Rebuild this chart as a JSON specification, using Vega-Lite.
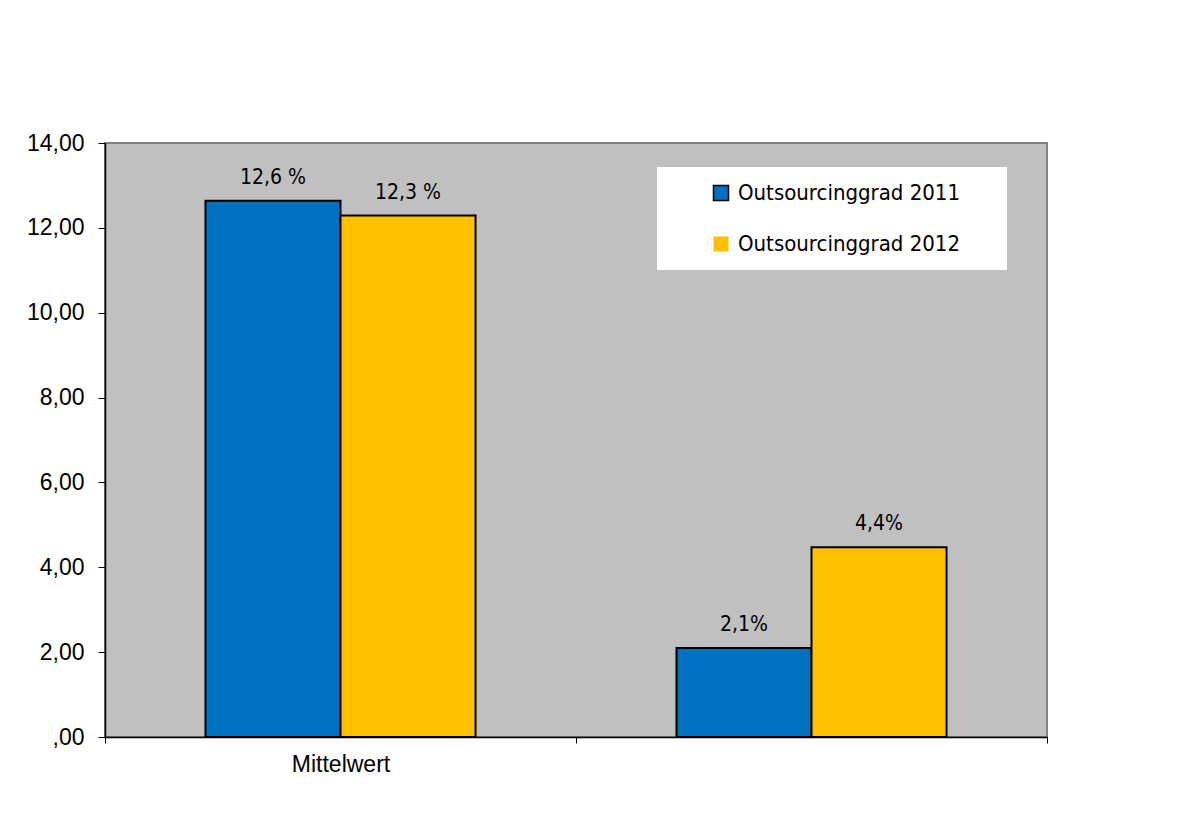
{
  "$schema": "https://vega.github.io/schema/vega-lite/v6.json",
  "autosize": {"type": "none"},
  "width": 942,
  "height": 594,
  "padding": {"left": 105, "top": 143, "right": 133, "bottom": 84},
  "background": "white",
  "config": {
    "view": {"fill": "#C0C0C0", "stroke": "#808080", "strokeWidth": 2},
    "axis": {"grid": false, "domainColor": "black", "tickColor": "black", "labelColor": "black", "labelFont": "Liberation Sans", "labelFontSize": 23, "title": null}
  },
  "data": {
    "values": [
      {"cat": "Mittelwert", "serie": "Outsourcinggrad 2011", "wert": 12.64, "label": "12,6 %"},
      {"cat": "Mittelwert", "serie": "Outsourcinggrad 2012", "wert": 12.29, "label": "12,3 %"},
      {"cat": "", "serie": "Outsourcinggrad 2011", "wert": 2.1, "label": "2,1%"},
      {"cat": "", "serie": "Outsourcinggrad 2012", "wert": 4.47, "label": "4,4%"}
    ]
  },
  "encoding": {
    "x": {
      "field": "cat", "type": "nominal", "sort": ["Mittelwert", ""],
      "scale": {"paddingInner": 0, "paddingOuter": 0},
      "axis": {"labelAngle": 0, "tickBand": "extent", "tickSize": 6, "labelPadding": 10, "domainWidth": 1.5}
    },
    "xOffset": {
      "field": "serie", "type": "nominal", "sort": ["Outsourcinggrad 2011", "Outsourcinggrad 2012"],
      "scale": {"paddingInner": 0, "paddingOuter": 0.744}
    },
    "y": {
      "field": "wert", "type": "quantitative",
      "scale": {"domain": [0, 14], "nice": false},
      "axis": {"values": [0, 2, 4, 6, 8, 10, 12, 14], "tickSize": 7, "labelPadding": 14, "domainWidth": 1.5,
        "labelExpr": "datum.value == 0 ? ',00' : replace(format(datum.value, '.2f'), '.', ',')"}
    }
  },
  "layer": [
    {
      "mark": {"type": "bar", "stroke": "black", "strokeWidth": 2},
      "encoding": {
        "color": {
          "field": "serie", "type": "nominal",
          "scale": {"domain": ["Outsourcinggrad 2011", "Outsourcinggrad 2012"], "range": ["#0070C0", "#FFC000"]},
          "legend": {
            "orient": "none", "legendX": 552, "legendY": 24,
            "title": "\u00a0", "titleOrient": "right", "titlePadding": 32, "titleFontSize": 10,
            "fillColor": "white", "padding": 15, "rowPadding": 29,
            "symbolType": "square", "symbolSize": 225, "symbolOffset": 38, "symbolStrokeColor": "black", "symbolStrokeWidth": 1.5,
            "labelFont": "DejaVu Sans Condensed", "labelFontSize": 22, "labelColor": "black", "labelOffset": 6, "labelLimit": 400,
            "encode": {"symbols": {"update": {"stroke": {"signal": "datum.value == 'Outsourcinggrad 2011' ? 'black' : 'transparent'"}}}}
          }
        }
      }
    },
    {
      "mark": {"type": "text", "font": "DejaVu Sans Condensed", "fontSize": 21, "color": "black", "baseline": "alphabetic", "dy": -17},
      "encoding": {"text": {"field": "label"}}
    }
  ]
}
